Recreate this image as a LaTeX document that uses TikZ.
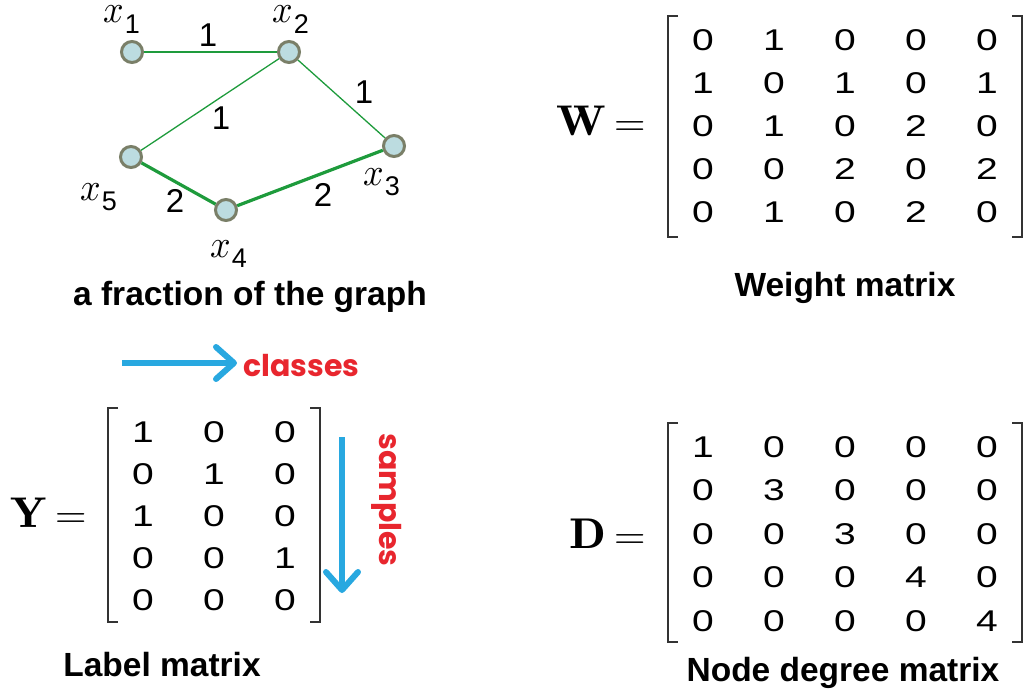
\documentclass[tikz,border=0pt]{standalone}
\usepackage{amsmath}
\usepackage{fontspec}
\newfontfamily\arialfont{Liberation Sans}
\newfontfamily\geofont{Poppins}
\usetikzlibrary{arrows.meta,positioning}
\definecolor{edgegreen}{HTML}{1E9B3C}
\definecolor{nodefill}{HTML}{BCDCE0}
\definecolor{nodeline}{HTML}{7A7F68}
\definecolor{arrowblue}{HTML}{28A8E0}
\definecolor{labelred}{HTML}{E8262E}
\newcommand{\ment}[1]{\scalebox{1.3}[1]{#1}}
\newcommand{\mletter}[1]{\scalebox{4.8}[4.3]{\fontsize{10}{12}\selectfont $\mathbf{#1}$}%
  \hspace{8pt}\scalebox{4.1}[3.8]{\fontsize{10}{12}\selectfont $=$}}
\newcommand{\xsub}[1]{\scalebox{3.6}[3.9]{\fontsize{10}{12}\selectfont $x$}\kern1pt\raisebox{-10pt}{\fontsize{27}{27}\arialfont #1}}

\begin{document}
\begin{tikzpicture}[
    x=1pt, y=-1pt,
    vertex/.style={circle, fill=nodefill, draw=nodeline, line width=3pt,
                   minimum size=21pt, inner sep=0pt},
    gedge/.style={draw=edgegreen, line width=1.3pt},
    heavy/.style={gedge, line width=3.2pt},
    wlabel/.style={inner sep=0pt},
    xlabel/.style={inner sep=0pt, anchor=base west},
    ent/.style={font=\fontsize{30}{30}\arialfont, inner sep=0pt},
    mname/.style={inner sep=0pt, anchor=base east},
    caption/.style={font=\fontsize{33.5}{33.5}\arialfont\bfseries},
    bracket/.style={draw=black!80, line width=2.2pt},
    bluearrow/.style={draw=arrowblue, line width=6pt,
                      -{Straight Barb[length=18pt, width=32pt, round]}},
    redtext/.style={font=\fontsize{30}{30}\geofont\bfseries, text=labelred, inner sep=0pt}]
  \useasboundingbox (0,0) rectangle (1028,696);

  % graph fraction
  \node[vertex] (x1) at (132,52) {};
  \node[vertex] (x2) at (289,52) {};
  \node[vertex] (x3) at (394,146) {};
  \node[vertex] (x4) at (226,210) {};
  \node[vertex] (x5) at (131,157) {};
  \draw[gedge] (x1) -- (x2);
  \draw[gedge] (x2) -- (x3);
  \draw[gedge] (x2) -- (x5);
  \draw[heavy] (x5) -- (x4);
  \draw[heavy] (x4) -- (x3);
  \node[wlabel] (w12) at (208,35) {\fontsize{33}{33}\arialfont 1};
  \node[wlabel] (w23) at (364,92) {\fontsize{33}{33}\arialfont 1};
  \node[wlabel] (w25) at (221,118) {\fontsize{33}{33}\arialfont 1};
  \node[wlabel] (w54) at (175,201) {\fontsize{33}{33}\arialfont 2};
  \node[wlabel] (w43) at (323,195) {\fontsize{33}{33}\arialfont 2};
  \node[xlabel] (lx1) at (103,23) {\xsub{1}};
  \node[xlabel] (lx2) at (272,23) {\xsub{2}};
  \node[xlabel] (lx3) at (363,185) {\xsub{3}};
  \node[xlabel] (lx4) at (210,257) {\xsub{4}};
  \node[xlabel] (lx5) at (80,200) {\xsub{5}};
  \node[caption] (graphcap) at (250,297) {a fraction of the graph};

  % weight matrix
  \node[mname] (wname) at (646,135) {\mletter{W}};
  \foreach \row [count=\r] in {{0,1,0,0,0},{1,0,1,0,1},{0,1,0,2,0},{0,0,2,0,2},{0,1,0,2,0}}
    \foreach \v [count=\c] in \row
      \node[ent] (w-\r-\c) at ({703+71*(\c-1)},{40+43*(\r-1)}) {\ment{\v}};
  \draw[bracket] (678,16) -- (668,16) -- (668,237) -- (678,237);
  \draw[bracket] (1012,16) -- (1022,16) -- (1022,237) -- (1012,237);
  \node[caption] (wcap) at (845,288) {Weight matrix};

  % label matrix
  \coordinate (clsstart) at (122,363);
  \node[redtext, anchor=west] (classes) at (243,366) {classes};
  \draw[bluearrow] (clsstart) -- ([xshift=-6pt]classes.west |- clsstart);
  \node[mname] (yname) at (87,527) {\mletter{Y}};
  \foreach \row [count=\r] in {{1,0,0},{0,1,0},{1,0,0},{0,0,1},{0,0,0}}
    \foreach \v [count=\c] in \row
      \node[ent] (y-\r-\c) at ({143+71*(\c-1)},{432+42*(\r-1)}) {\ment{\v}};
  \draw[bracket] (118,408) -- (108,408) -- (108,622) -- (118,622);
  \draw[bracket] (310,408) -- (320,408) -- (320,622) -- (310,622);
  \node[redtext, rotate=-90] (samples) at (387,500) {samples};
  \coordinate (smpstart) at (342,437);
  \coordinate (smpend) at (342,593);
  \draw[bluearrow] (smpstart) -- (smpend);
  \node[caption] (ycap) at (162,665) {Label matrix};

  % node degree matrix
  \node[mname] (dname) at (646,548) {\mletter{D}};
  \foreach \row [count=\r] in {{1,0,0,0,0},{0,3,0,0,0},{0,0,3,0,0},{0,0,0,4,0},{0,0,0,0,4}}
    \foreach \v [count=\c] in \row
      \node[ent] (d-\r-\c) at ({703+71*(\c-1)},{447+43.5*(\r-1)}) {\ment{\v}};
  \draw[bracket] (678,423) -- (668,423) -- (668,642) -- (678,642);
  \draw[bracket] (1012,423) -- (1022,423) -- (1022,642) -- (1012,642);
  \node[caption] (dcap) at (843,673) {Node degree matrix};
\end{tikzpicture}
\end{document}
